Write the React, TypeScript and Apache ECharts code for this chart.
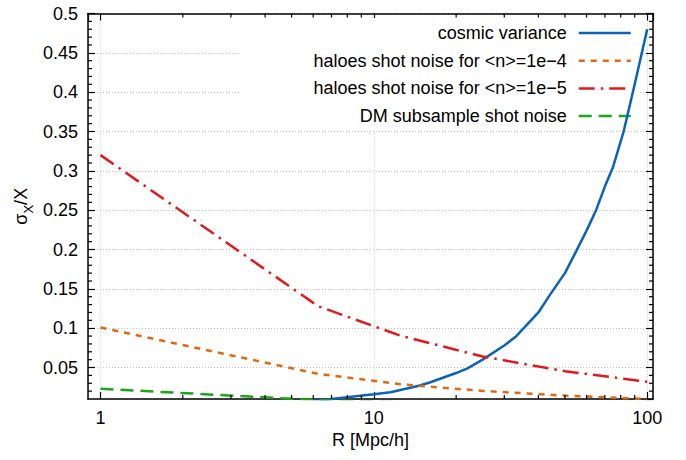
import React, { useEffect, useRef } from "react";
import * as echarts from "echarts";

// ---- data ----
const R_SHOT = [1, 6.25, 12.5, 25, 50, 100];
const HALOES_1E4 = [0.101, 0.042, 0.0287, 0.0203, 0.0143, 0.0101];
const HALOES_1E5 = [0.32, 0.128, 0.0905, 0.064, 0.0453, 0.032];
const DM_SHOT = [0.023, 0.0086, 0.0061, 0.0043, 0.003, 0.0022];

const R_CV = [6, 10, 11.5, 14.5, 16, 20, 22, 25, 30, 33, 40, 44, 50, 55, 60, 65, 70, 75, 82, 90, 100];
const COSMIC_VAR = [0.0075, 0.016, 0.0185, 0.0265, 0.031, 0.043, 0.049, 0.06, 0.078, 0.089, 0.12, 0.142, 0.17, 0.198, 0.224, 0.25, 0.28, 0.305, 0.35, 0.41, 0.48];

const SERIES_NAMES = [
  "cosmic variance",
  "haloes shot noise for <n>=1e\u22124",
  "haloes shot noise for <n>=1e\u22125",
  "DM subsample shot noise",
];

const X_MIN = 0.9;
const X_MAX = 105;
const Y_MIN = 0.01;
const Y_MAX = 0.5;
const X_MINOR_TICKS = [2, 3, 4, 5, 6, 7, 8, 9, 20, 30, 40, 50, 60, 70, 80, 90];

const FONT = "'Liberation Sans', Arial, Helvetica, sans-serif";

function pairs(xs: number[], ys: number[]) {
  return xs.map((x, i) => [x, ys[i]]);
}

export default function App() {
  const ref = useRef<HTMLDivElement>(null);

  useEffect(() => {
    if (!ref.current) return;
    const chart = echarts.init(ref.current, undefined, { renderer: "svg" });

    const yMinor: number[] = [];
    for (let k = 2; k < 50; k++) {
      if (k % 5 !== 0) yMinor.push(k / 100);
    }

    const axisLine = { show: true, lineStyle: { color: "#000", width: 1.5 } };
    const tick = { show: true, inside: true, length: 7, lineStyle: { color: "#000", width: 1.2 } };
    const split = { show: true, lineStyle: { color: "#c4c4c4", width: 1, type: [1, 2] } };
    const label = { fontSize: 18, color: "#000", fontFamily: FONT };

    const option: any = {
      animation: false,
      backgroundColor: "#fff",
      textStyle: { fontFamily: FONT },
      grid: { left: 88, right: 33, top: 13.5, bottom: 61, containLabel: false },
      legend: {
        show: true,
        data: SERIES_NAMES,
        orient: "vertical",
        align: "right",
        right: 46,
        top: 18,
        z: 1,
        padding: [5, 8, 5, 74],
        itemGap: 7.7,
        itemWidth: 52,
        itemHeight: 14,
        backgroundColor: "#fff",
        selectedMode: false,
        itemStyle: { opacity: 0 },
        lineStyle: { width: 2.5 },
        textStyle: { fontSize: 18, color: "#000", fontFamily: FONT, lineHeight: 20, padding: [0, 7, 0, 0] },
      },
      xAxis: [
        {
          type: "log",
          logBase: 10,
          position: "bottom",
          min: X_MIN,
          max: X_MAX,
          name: "R [Mpc/h]",
          nameLocation: "middle",
          nameGap: 32,
          nameMoveOverlap: false,
          nameTextStyle: { fontSize: 18, color: "#000", fontFamily: FONT },
          axisLine,
          axisTick: tick,
          axisLabel: { ...label, margin: 10, showMinLabel: false, showMaxLabel: false },
          splitLine: split,
        },
        {
          type: "log",
          logBase: 10,
          position: "top",
          min: X_MIN,
          max: X_MAX,
          axisLine,
          axisTick: tick,
          axisLabel: { show: false },
          splitLine: { show: false },
        },
      ],
      yAxis: [
        {
          type: "value",
          position: "left",
          min: Y_MIN,
          max: Y_MAX,
          splitNumber: 10,
          name: "{a|σ}{b|X}{a|/X}",
          nameLocation: "middle",
          nameGap: 62,
          nameMoveOverlap: false,
          nameTextStyle: {
            color: "#000",
            fontFamily: FONT,
            verticalAlign: "middle",
            rich: {
              a: { fontSize: 18, color: "#000", fontFamily: FONT, lineHeight: 18, padding: [0, 0, 5, 0], verticalAlign: "bottom" },
              b: { fontSize: 13, color: "#000", fontFamily: FONT, lineHeight: 13, verticalAlign: "bottom" },
            },
          },
          axisLine,
          axisTick: tick,
          axisLabel: {
            ...label,
            margin: 10,
            showMinLabel: false,
            formatter: (v: number) => String(+v.toFixed(2)),
          },
          splitLine: split,
        },
        {
          type: "value",
          position: "right",
          min: Y_MIN,
          max: Y_MAX,
          splitNumber: 10,
          axisLine,
          axisTick: tick,
          axisLabel: { show: false },
          splitLine: { show: false },
        },
      ],
      series: [
        {
          name: SERIES_NAMES[0],
          type: "line",
          data: pairs(R_CV, COSMIC_VAR),
          symbol: "none",
          showSymbol: false,
          clip: true,
          z: 3,
          itemStyle: { color: "#0b63b8" },
          lineStyle: { color: "#0b63b8", width: 2.5, type: "solid" },
        },
        {
          name: SERIES_NAMES[1],
          type: "line",
          data: pairs(R_SHOT, HALOES_1E4),
          symbol: "none",
          showSymbol: false,
          clip: true,
          z: 3,
          itemStyle: { color: "#e0690f" },
          lineStyle: { color: "#e0690f", width: 2.5, type: [6, 6] },
        },
        {
          name: SERIES_NAMES[2],
          type: "line",
          data: pairs(R_SHOT, HALOES_1E5),
          symbol: "none",
          showSymbol: false,
          clip: true,
          z: 3,
          itemStyle: { color: "#e3181d" },
          lineStyle: { color: "#e3181d", width: 2.5, type: [16, 6, 2.5, 6] },
        },
        {
          name: SERIES_NAMES[3],
          type: "line",
          data: pairs(R_SHOT, DM_SHOT),
          symbol: "none",
          showSymbol: false,
          clip: true,
          z: 3,
          itemStyle: { color: "#1aa51a" },
          lineStyle: { color: "#1aa51a", width: 2.5, type: [13, 7] },
        },
        {
          name: "minor-ticks",
          type: "custom",
          silent: true,
          clip: false,
          z: 4,
          data: [[1, 0.1]],
          renderItem: (_params: any, api: any) => {
            const children: any[] = [];
            const len = 4;
            const st = { stroke: "#000", lineWidth: 1.2 };
            X_MINOR_TICKS.forEach((r) => {
              const b = api.coord([r, Y_MIN]);
              const t = api.coord([r, Y_MAX]);
              children.push({ type: "line", shape: { x1: b[0], y1: b[1], x2: b[0], y2: b[1] - len }, style: st });
              children.push({ type: "line", shape: { x1: t[0], y1: t[1], x2: t[0], y2: t[1] + len }, style: st });
            });
            yMinor.forEach((v) => {
              const l = api.coord([X_MIN, v]);
              const r = api.coord([X_MAX, v]);
              children.push({ type: "line", shape: { x1: l[0], y1: l[1], x2: l[0] + len, y2: l[1] }, style: st });
              children.push({ type: "line", shape: { x1: r[0], y1: r[1], x2: r[0] - len, y2: r[1] }, style: st });
            });
            return { type: "group", children };
          },
        },
      ],
    };

    chart.setOption(option);
    return () => chart.dispose();
  }, []);

  return (
    <div
      ref={ref}
      style={{ position: "fixed", left: 0, top: 0, width: 686, height: 460, background: "#fff" }}
    />
  );
}
